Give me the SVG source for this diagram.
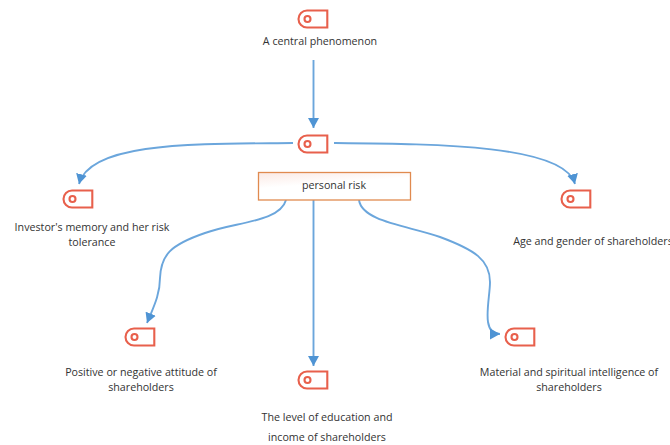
<svg xmlns="http://www.w3.org/2000/svg" width="670" height="445" viewBox="0 0 670 445">
<style>
text{font-family:"Open Sans","Noto Sans",sans-serif;font-size:10.7px;fill:#333;text-anchor:middle}
.c{fill:none;stroke:#6ba6dc;stroke-width:1.9}
.i{fill:none;stroke:#e8604c;stroke-width:2.1}
</style>
<defs>
<marker id="a" markerUnits="userSpaceOnUse" markerWidth="12" markerHeight="12" refX="10" refY="5.500" orient="auto"><path d="M0 0L10 5.500L0 11Z" fill="#4f94d4"/></marker>
<linearGradient id="g" x1="0" y1="0" x2="0.4" y2="1"><stop offset="0" stop-color="#fbe9e4"/><stop offset="0.5" stop-color="#fff"/></linearGradient>
<g id="ic"><path class="i" d="M8 0.5H28.3V17.5H8A8.5 8.5 0 0 1 8 0.5Z"/><circle class="i" cx="8.500" cy="9" r="3"/></g>
</defs>
<rect width="670" height="445" fill="#fff"/>
<g id="connectors">
<path class="c" marker-end="url(#a)" d="M313.5 60V128"/>
<path class="c" marker-end="url(#a)" d="M293 143C200 144 90 141 79 184"/>
<path class="c" marker-end="url(#a)" d="M334 143C440 144 565 145 575 184"/>
<path class="c" marker-end="url(#a)" d="M286 200C280 222 235 222 205 233C170 245 161 255 160 278C160 295 153 308 147 323"/>
<path class="c" marker-end="url(#a)" d="M359 200C362 222 410 226 440 237C475 250 490 260 490 282C490 300 480 334 500 334"/>
<path class="c" marker-end="url(#a)" d="M313.5 200V366"/>
</g>
<g id="n1"><use href="#ic" x="299" y="10"/><text x="320" y="45">A central phenomenon</text></g>
<g id="n2"><use href="#ic" x="299" y="135"/></g>
<g id="n3"><rect x="258.5" y="172.500" width="152" height="27.500" fill="url(#g)" stroke="#e08a4f" stroke-width="1.3"/><text x="334" y="189">personal risk</text></g>
<g id="n4"><use href="#ic" x="64" y="190"/><text x="92" y="231">Investor's memory and her risk</text><text x="92" y="246">tolerance</text></g>
<g id="n5"><use href="#ic" x="562" y="190"/><text x="593" y="245">Age and gender of shareholders</text></g>
<g id="n6"><use href="#ic" x="126" y="328"/><text x="141" y="376">Positive or negative attitude of</text><text x="141" y="391">shareholders</text></g>
<g id="n7"><use href="#ic" x="506" y="328"/><text x="569" y="376">Material and spiritual intelligence of</text><text x="569" y="391">shareholders</text></g>
<g id="n8"><use href="#ic" x="299" y="371"/><text x="327" y="421">The level of education and</text><text x="327" y="441">income of shareholders</text></g>
</svg>
